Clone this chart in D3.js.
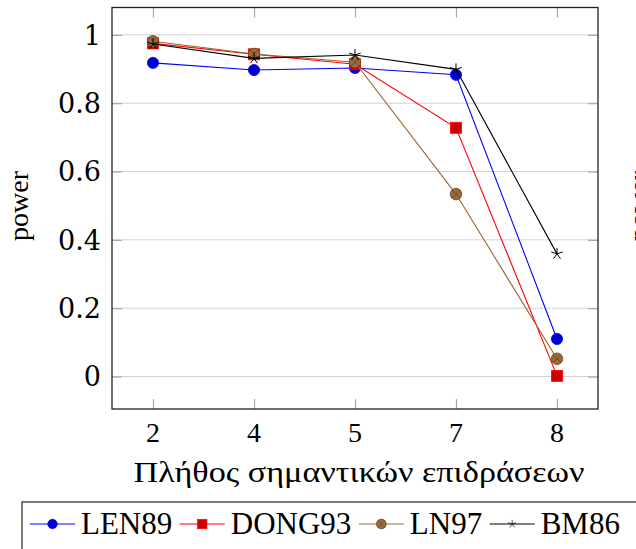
<!DOCTYPE html>
<html>
<head>
<meta charset="utf-8">
<script src="https://cdn.jsdelivr.net/npm/d3@7"></script>
<style>
  body { margin: 0; background: #fff; }
  svg { display: block; }
  .serif { font-family: "Liberation Serif", "Times New Roman", Times, "DejaVu Serif", serif; }
  .wide { font-family: "DejaVu Serif", "Liberation Serif", serif; }
</style>
</head>
<body>
<div id="wrapper"></div>
<script>
// data
const categories = ["2", "4", "5", "7", "8"]
const len89  = [0.918, 0.897, 0.903, 0.883, 0.110]
const dong93 = [0.975, 0.943, 0.914, 0.728, 0.002]
const ln97   = [0.981, 0.944, 0.920, 0.534, 0.052]
const bm86   = [0.973, 0.931, 0.941, 0.899, 0.359]
const yTicks = [0, 0.2, 0.4, 0.6, 0.8, 1]
const yTickLabels = ["0", "0.2", "0.4", "0.6", "0.8", "1"]

const series = [
  { name: "LEN89",  values: len89,  line: "#0000ff", mark: "circle" },
  { name: "DONG93", values: dong93, line: "#ff0000", mark: "square" },
  { name: "LN97",   values: ln97,   line: "#996633", mark: "otimes" },
  { name: "BM86",   values: bm86,   line: "#000000", mark: "star" },
]

// dimensions
const dimensions = {
  width: 636,
  height: 549,
  margin: { top: 7.5, right: 38, bottom: 140, left: 112 },
}
dimensions.boundedWidth = dimensions.width - dimensions.margin.left - dimensions.margin.right
dimensions.boundedHeight = dimensions.height - dimensions.margin.top - dimensions.margin.bottom

const wrapper = d3.select("#wrapper")
  .append("svg")
    .attr("width", dimensions.width)
    .attr("height", dimensions.height)

const bounds = wrapper.append("g")
    .attr("transform", `translate(${dimensions.margin.left},${dimensions.margin.top})`)

// scales
const xScale = d3.scalePoint()
    .domain(categories)
    .range([0, dimensions.boundedWidth])
    .padding(0.406)

const yScale = d3.scaleLinear()
    .domain([-0.095, 1.08])
    .range([dimensions.boundedHeight, 0])

// grid
bounds.append("g")
  .selectAll("line")
  .data(yTicks)
  .join("line")
    .attr("x1", 0)
    .attr("x2", dimensions.boundedWidth)
    .attr("y1", d => yScale(d))
    .attr("y2", d => yScale(d))
    .attr("stroke", "#d2d2d2")
    .attr("stroke-width", 1)

// inward ticks on all sides
const tickLen = 10
const tickColor = "#a8a8a8"
const yAxisLeft = d3.axisLeft(yScale).tickValues(yTicks).tickSize(-tickLen).tickFormat("")
const yAxisRight = d3.axisRight(yScale).tickValues(yTicks).tickSize(-tickLen).tickFormat("")
const xAxisBottom = d3.axisBottom(xScale).tickSize(-tickLen).tickFormat("")
const xAxisTop = d3.axisTop(xScale).tickSize(-tickLen).tickFormat("")

const styleAxis = g => {
  g.select(".domain").remove()
  g.selectAll(".tick line").attr("stroke", tickColor).attr("stroke-width", 1.2)
}
bounds.append("g").call(yAxisLeft).call(styleAxis)
bounds.append("g").attr("transform", `translate(${dimensions.boundedWidth},0)`).call(yAxisRight).call(styleAxis)
bounds.append("g").attr("transform", `translate(0,${dimensions.boundedHeight})`).call(xAxisBottom).call(styleAxis)
bounds.append("g").call(xAxisTop).call(styleAxis)

// tick labels
bounds.append("g")
  .selectAll("text")
  .data(yTicks)
  .join("text")
    .attr("class", "wide")
    .attr("x", -11)
    .attr("y", d => yScale(d))
    .attr("dy", "0.36em")
    .attr("text-anchor", "end")
    .style("font-size", "27px")
    .text((d, i) => yTickLabels[i])

bounds.append("g")
  .selectAll("text")
  .data(categories)
  .join("text")
    .attr("class", "serif")
    .attr("x", d => xScale(d))
    .attr("y", dimensions.boundedHeight + 33)
    .attr("text-anchor", "middle")
    .style("font-size", "28px")
    .text(d => d)

// axis labels
wrapper.append("text")
    .attr("class", "serif")
    .attr("x", 359)
    .attr("y", 482)
    .attr("text-anchor", "middle")
    .attr("textLength", 451)
    .attr("lengthAdjust", "spacingAndGlyphs")
    .style("font-size", "30px")
    .text("Πλήθος σημαντικών επιδράσεων")

const powerLabel = (x) => wrapper.append("text")
    .attr("class", "serif")
    .attr("transform", `translate(${x},206) rotate(-90)`)
    .attr("text-anchor", "middle")
    .style("font-size", "28px")
    .text("power")
powerLabel(28)
powerLabel(648)

// lines and markers
const lineGen = d3.line()
    .x((d, i) => xScale(categories[i]))
    .y(d => yScale(d))

const drawMarker = (g, type, color) => {
  if (type === "circle") {
    g.append("circle").attr("r", 5.6).attr("fill", "#0000cc").attr("stroke", "#0000ff").attr("stroke-width", 0.8)
  } else if (type === "square") {
    g.append("rect").attr("x", -5.5).attr("y", -5.5).attr("width", 11).attr("height", 11)
      .attr("fill", "#cc0000").attr("stroke", "#ff0000").attr("stroke-width", 0.8)
  } else if (type === "otimes") {
    g.append("circle").attr("r", 5.8).attr("fill", "#9a6a3c").attr("stroke", "#6b4420").attr("stroke-width", 0.8)
    const s = 5.8 * Math.SQRT1_2
    g.append("path").attr("d", `M${-s},${-s}L${s},${s}M${-s},${s}L${s},${-s}`)
      .attr("stroke", "#6b4420").attr("stroke-width", 0.8)
  } else if (type === "star") {
    const r = 6
    const d = d3.range(5).map(k => {
      const a = -Math.PI / 2 + k * 2 * Math.PI / 5
      return `M0,0L${r * Math.cos(a)},${r * Math.sin(a)}`
    }).join("")
    g.append("path").attr("d", d).attr("stroke", color).attr("stroke-width", 1).attr("fill", "none")
  }
}

series.forEach(s => {
  const g = bounds.append("g")
  g.append("path")
      .datum(s.values)
      .attr("d", lineGen)
      .attr("fill", "none")
      .attr("stroke", s.line)
      .attr("stroke-width", 1.1)
  s.values.forEach((v, i) => {
    const m = g.append("g").attr("transform", `translate(${xScale(categories[i])},${yScale(v)})`)
    drawMarker(m, s.mark, s.line)
  })
})

// frame
bounds.append("rect")
    .attr("width", dimensions.boundedWidth)
    .attr("height", dimensions.boundedHeight)
    .attr("fill", "none")
    .attr("stroke", "#222")
    .attr("stroke-width", 1.3)

// legend
const legend = wrapper.append("g")
legend.append("rect")
    .attr("x", 22)
    .attr("y", 502)
    .attr("width", 700)
    .attr("height", 80)
    .attr("fill", "#fff")
    .attr("stroke", "#222")
    .attr("stroke-width", 1.2)

let lx = 30
const ly = 524
series.forEach(s => {
  legend.append("line")
      .attr("x1", lx).attr("x2", lx + 45)
      .attr("y1", ly).attr("y2", ly)
      .attr("stroke", s.line).attr("stroke-width", 1.1)
  const m = legend.append("g")
  const k = s.mark === "star" ? 0.7 : 0.85
  m.attr("transform", `translate(${lx + 22.5},${ly}) scale(${k})`)
  drawMarker(m, s.mark, s.line)
  const t = legend.append("text")
      .attr("class", "serif")
      .attr("x", lx + 51)
      .attr("y", ly + 10)
      .style("font-size", "31px")
      .text(s.name)
  lx += 51 + t.node().getComputedTextLength() + 7.5
})
</script>
</body>
</html>
